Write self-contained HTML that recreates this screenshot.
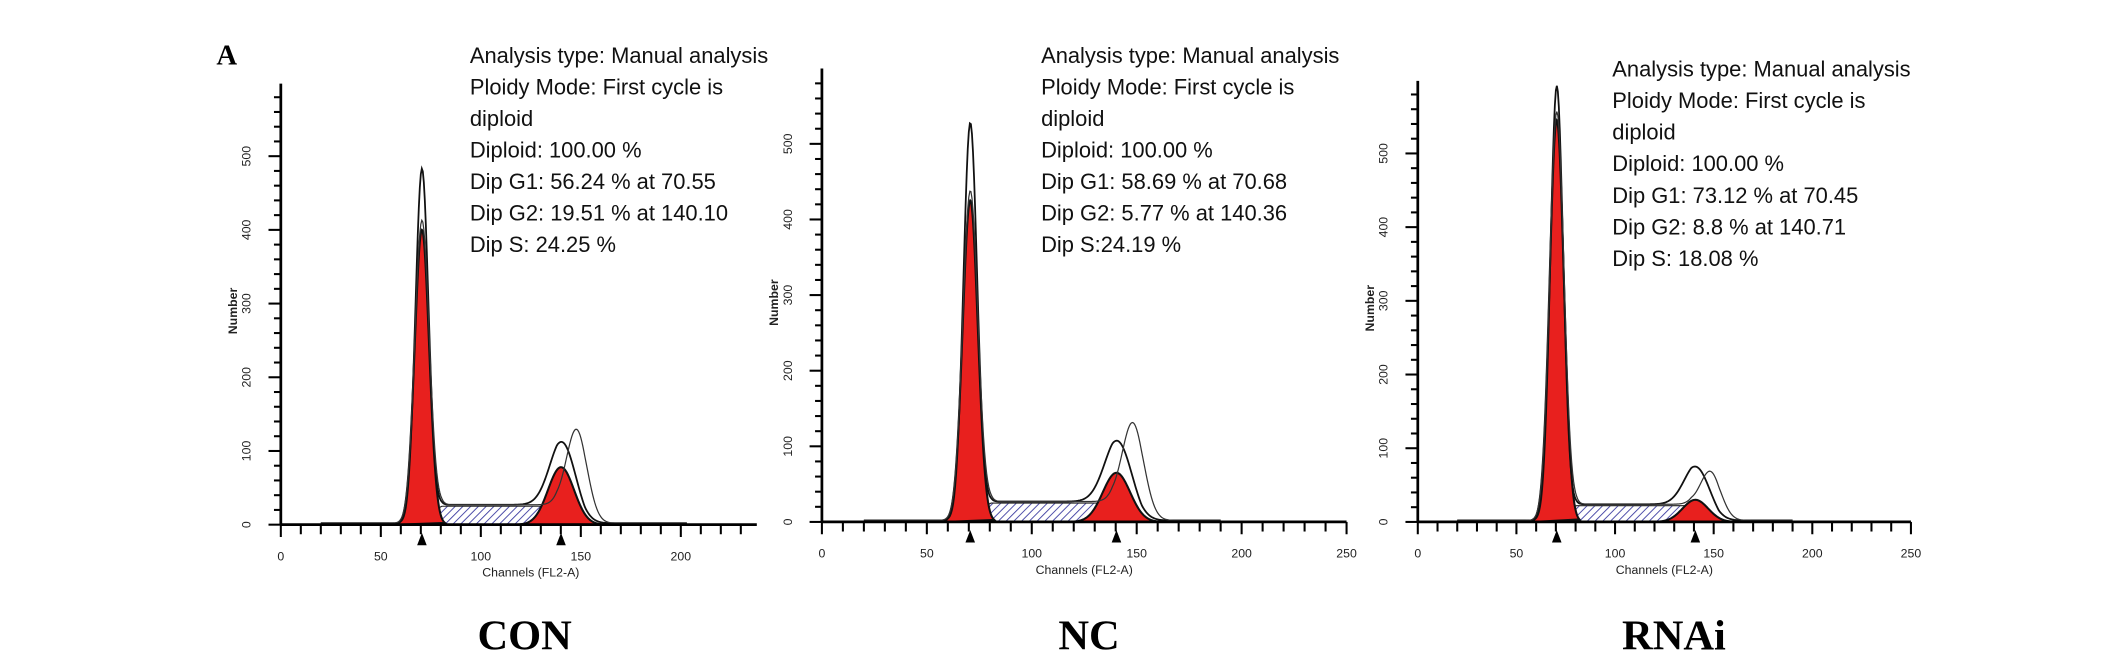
<!DOCTYPE html>
<html><head><meta charset="utf-8"><style>
html,body{margin:0;padding:0;background:#fff}
svg{display:block}
</style></head><body>
<svg id="chart" width="2126" height="664" viewBox="0 0 1552 484.7" xmlns="http://www.w3.org/2000/svg">
<defs>
<pattern id="hatch" patternUnits="userSpaceOnUse" width="4" height="4" patternTransform="rotate(45)">
<rect width="4" height="4" fill="#fff"/><line x1="0" y1="0" x2="0" y2="4" stroke="#3a3aa0" stroke-width="1.3"/>
</pattern>
</defs>
<text x="158" y="47" font-family="Liberation Serif, serif" font-weight="bold" font-size="21">A</text>
<g id="root"></g>
</svg>
<script>
// data arrays
const groupNames = ["CON", "NC", "RNAi"];
const g1Means = [70.55, 70.68, 70.45];
const g1RedPeaks = [400, 425, 545];
const g1RawPeaks = [470, 515, 580];
const g2Means = [140.10, 140.36, 140.71];
const g2RedPeaks = [78, 65, 30];
const g2RawPeaks = [90, 85, 55];
const g2AltPeaks = [120, 122, 60];
const sLevels = [25, 25, 22];
const yTicks = [0, 100, 200, 300, 400, 500];
const xTickLabels = [[0, 50, 100, 150, 200], [0, 50, 100, 150, 200, 250], [0, 50, 100, 150, 200, 250]];
const infoLines = [
 ["Analysis type: Manual analysis","Ploidy Mode: First cycle is","diploid","Diploid: 100.00 %","Dip G1: 56.24 % at 70.55","Dip G2: 19.51 % at 140.10","Dip S: 24.25 %"],
 ["Analysis type: Manual analysis","Ploidy Mode: First cycle is","diploid","Diploid: 100.00 %","Dip G1: 58.69 % at 70.68","Dip G2: 5.77 % at 140.36","Dip S:24.19 %"],
 ["Analysis type: Manual analysis","Ploidy Mode: First cycle is","diploid","Diploid: 100.00 %","Dip G1: 73.12 % at 70.45","Dip G2: 8.8 % at 140.71","Dip S: 18.08 %"]
];

const layout = [
 {x0:205, xp:73/50, y0:383, y500:114, top:61, xMax:238, tx:343, ty:40, lx:383},
 {x0:600, xp:76.6/50, y0:381, y500:105, top:50, xMax:250, tx:760, ty:40, lx:795},
 {x0:1035, xp:72/50, y0:381, y500:112, top:59, xMax:250, tx:1177, ty:50, lx:1222}
];
const NS="http://www.w3.org/2000/svg";
const root=document.getElementById('root');
function mk(tag, attrs, parent){const e=document.createElementNS(NS,tag);for(const k in attrs)e.setAttribute(k,attrs[k]);(parent||root).appendChild(e);return e;}
function gauss(x,m,s){return Math.exp(-0.5*((x-m)/s)*((x-m)/s));}
function sComp(c,i){
  const a=Math.min(1,Math.max(0,(c-g1Means[i]+8)/18)), b=Math.min(1,Math.max(0,(g2Means[i]+12-c)/14));
  return sLevels[i]*a*b;
}
layout.forEach((L,i)=>{
  const g=mk('g',{});
  
  
  const xs=v=>L.x0+v*L.xp, ys=v=>L.y0-v*(L.y0-L.y500)/500;
  const sd1=3.6, sd2=6.5;
  let p='M'+xs(g1Means[i]-8)+','+ys(0);
  for(let c=g1Means[i]-8;c<=g2Means[i]+12;c+=0.5)p+=' L'+xs(c).toFixed(2)+','+ys(sComp(c,i)).toFixed(2);
  p+=' L'+xs(g2Means[i]+12)+','+ys(0)+' Z';
  const sp=mk('path',{d:p,fill:'url(#hatch)',stroke:'#222','stroke-width':0.8},g);
  
  
  [[g1Means[i],g1RedPeaks[i],sd1,'g1'],[g2Means[i],g2RedPeaks[i],sd2,'g2']].forEach(([m,a,s,n])=>{
    let d='M'+xs(m-3.2*s)+','+ys(0);
    for(let c=m-3.2*s;c<=m+3.2*s;c+=0.25)d+=' L'+xs(c).toFixed(2)+','+ys(a*gauss(c,m,s)).toFixed(2);
    d+=' Z';
    const rp=mk('path',{d:d,fill:'#e8201e',stroke:'#111','stroke-width':1.5},g);
    
    
  });
  let d='',d2='';
  for(let c=20;c<=L.xMax-60+(i==0?25:0);c+=0.5){
    const base=2+sComp(c,i);
    const v=base+g1RawPeaks[i]*gauss(c,g1Means[i],sd1*0.9)+g2RawPeaks[i]*gauss(c,g2Means[i]+1,sd2);
    const v2=base+g1RedPeaks[i]*gauss(c,g1Means[i],sd1)+g2AltPeaks[i]*gauss(c,g2Means[i]+8,sd2*0.8);
    d+=(d?' L':'M')+xs(c).toFixed(2)+','+ys(v).toFixed(2);
    d2+=(d2?' L':'M')+xs(c).toFixed(2)+','+ys(v2).toFixed(2);
  }
  const rl=mk('path',{d:d,fill:'none',stroke:'#111','stroke-width':1.3},g);
  
  
  const rl2=mk('path',{d:d2,fill:'none',stroke:'#333','stroke-width':0.9},g);
  
  
  const ya=mk('line',{x1:L.x0,y1:L.top,x2:L.x0,y2:L.y0,stroke:'#000','stroke-width':2},g);
  
  
  const xa=mk('line',{x1:L.x0,y1:L.y0,x2:xs(L.xMax),y2:L.y0,stroke:'#000','stroke-width':2},g);
  
  
  for(let v=0;v<=L.xMax;v+=10){
    mk('line',{x1:xs(v),y1:L.y0,x2:xs(v),y2:L.y0+(v%50==0?9:7),stroke:'#000','stroke-width':1.5},g);
  }
  const ymax=(L.y0-L.top)*500/(L.y0-L.y500);
  for(let v=0;v<=ymax;v+=20){
    mk('line',{x1:L.x0-(v%100==0?9:5),y1:ys(v),x2:L.x0,y2:ys(v),stroke:'#000','stroke-width':1.5},g);
  }
  yTicks.forEach(v=>{
    const t=mk('text',{x:0,y:0,transform:'translate('+(L.x0-22)+','+ys(v)+') rotate(-90)','text-anchor':'middle','font-family':'Liberation Sans, sans-serif','font-size':9,fill:'#222'},g);
    t.textContent=v;
    
    
  });
  xTickLabels[i].forEach(v=>{
    const t=mk('text',{x:xs(v),y:L.y0+26,'text-anchor':'middle','font-family':'Liberation Sans, sans-serif','font-size':9,fill:'#222'},g);
    t.textContent=v;
    
    
  });
  const xt=mk('text',{x:xs(125),y:L.y0+38,'text-anchor':'middle','font-family':'Liberation Sans, sans-serif','font-size':9,fill:'#222'},g);
  xt.textContent='Channels (FL2-A)';
  
  
  const yt=mk('text',{x:0,y:0,transform:'translate('+(L.x0-32)+','+ys(290)+') rotate(-90)','text-anchor':'middle','font-family':'Liberation Sans, sans-serif','font-size':9,'font-weight':'bold',fill:'#222'},g);
  yt.textContent='Number';
  
  
  [g1Means[i],g2Means[i]].forEach(m=>{
    const tr=mk('path',{d:'M'+xs(m)+','+(L.y0+6)+' l-3.5,9 l7,0 Z',fill:'#000'},g);
    
    
  });
  infoLines[i].forEach((s,k)=>{
    const t=mk('text',{x:L.tx,y:L.ty+k*23+6,'font-family':'Liberation Sans, sans-serif','font-size':16,fill:'#111'},g);
    t.textContent=s;
    
    
  });
  const gl=mk('text',{x:L.lx,y:474,'text-anchor':'middle','font-family':'Liberation Serif, serif','font-weight':'bold','font-size':31,fill:'#000'},g);
  gl.textContent=groupNames[i];
  
  
});
</script>
</body></html>
